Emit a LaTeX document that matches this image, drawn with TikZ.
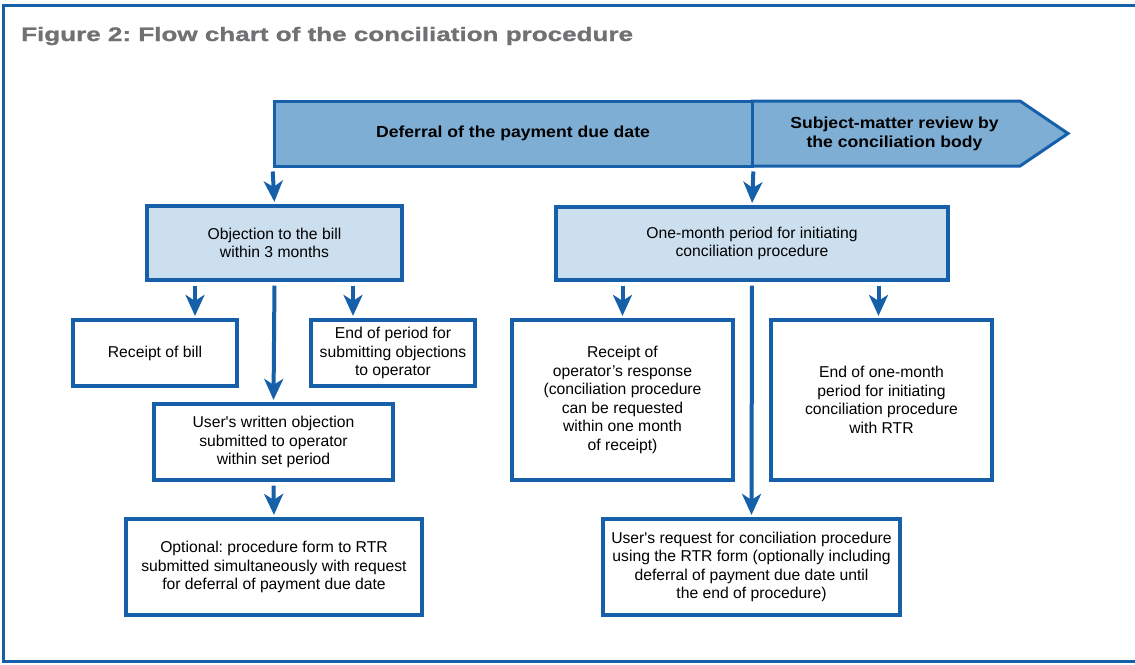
\documentclass[tikz,border=0pt]{standalone}
\usepackage{fontspec}
\setmainfont{Liberation Sans}
\newfontfamily\titlefont{Liberation Sans}[FakeStretch=1.335, BoldFeatures={FakeBold=1.2}]
\newfontfamily\bannerfont{Liberation Sans}[FakeStretch=1.1]
\frenchspacing
\usetikzlibrary{arrows.meta, positioning, calc}
\definecolor{rtrblue}{HTML}{1660AA}
\definecolor{bannerblue}{HTML}{7FAED5}
\definecolor{paleblue}{HTML}{CCDFEF}
\definecolor{titlegray}{HTML}{707173}
\tikzset{
  banner/.style={draw=rtrblue, fill=bannerblue, line width=3pt, line join=miter},
  bannertext/.style={font=\bannerfont\bfseries\fontsize{16}{19}\selectfont,
                     align=center, inner sep=0pt},
  periodbox/.style={rectangle, draw=rtrblue, fill=paleblue, line width=3.2pt,
                    align=center, inner sep=0pt, font=\fontsize{15.7}{18.5}\selectfont},
  eventbox/.style={rectangle, draw=rtrblue, fill=white, line width=3.2pt,
                   align=center, inner sep=0pt, font=\fontsize{15.7}{18.5}\selectfont},
  arrow/.style={-{Stealth[length=21pt, width=19pt, inset=6pt]}, line width=4pt,
                draw=rtrblue, fill=rtrblue, shorten <=4pt, shorten >=2.5pt},
}

\begin{document}
\begin{tikzpicture}[x=1pt, y=-1pt]
  \useasboundingbox (0,0) rectangle (1135,664);
  \draw[rtrblue, line width=3pt] (1135,5) -- (3.5,5) -- (3.5,661) -- (1135,661);
  \node[anchor=base west, inner sep=0pt, text=titlegray,
        font=\titlefont\bfseries\fontsize{19.5}{23}\selectfont] (title) at (21,41)
        {Figure 2: Flow chart of the conciliation procedure};

  % time bar
  \draw[banner] (752,101) -- (1020,101) -- (1068,133.5) -- (1020,166) -- (752,166) -- cycle;
  \node[banner, bannertext, minimum width=478pt, minimum height=65pt] (defer) at (513,133.5)
        {Deferral of the payment due date};
  \node[bannertext] (review) at (894.5,133.5) {Subject-matter review by\\the conciliation body};

  % left branch
  \node[periodbox, minimum width=255pt, minimum height=74pt] (objection) at (274.5,243)
        {Objection to the bill\\within 3 months};
  \node[eventbox, minimum width=164pt, minimum height=66pt] (receipt) at (155,353)
        {Receipt of bill};
  \node[eventbox, minimum width=164pt, minimum height=66pt] (endperiod) at (393,353)
        {End of period for\\submitting objections\\to operator};
  \node[eventbox, minimum width=239pt, minimum height=76pt] (written) at (273.5,442)
        {User\textquotesingle s written objection\\submitted to operator\\within set period};
  \node[eventbox, minimum width=296pt, minimum height=96pt] (optional) at (274,567)
        {Optional: procedure form to RTR\\submitted simultaneously with request\\for deferral of payment due date};

  % right branch
  \node[periodbox, minimum width=392pt, minimum height=73pt] (month) at (752,243.5)
        {One-month period for initiating\\conciliation procedure};
  \node[eventbox, minimum width=221pt, minimum height=160pt] (response) at (622.5,400)
        {Receipt of\\operator’s response\\(conciliation procedure\\can be requested\\within one month\\of receipt)};
  \node[eventbox, minimum width=221pt, minimum height=160pt] (endmonth) at (881.5,400)
        {End of one-month\\period for initiating\\conciliation procedure\\with RTR};
  \node[eventbox, minimum width=297pt, minimum height=96pt] (request) at (751.5,567)
        {User\textquotesingle s request for conciliation procedure\\using the RTR form (optionally including\\deferral of payment due date until\\the end of procedure)};

  \draw[arrow] (defer.south west) -- (objection.north);
  \draw[arrow] (defer.south east) -- (month.north);

  \draw[arrow] ([xshift=40pt]receipt.north |- objection.south) -- ([xshift=40pt]receipt.north);
  \draw[arrow] ([xshift=-40pt]endperiod.north |- objection.south) -- ([xshift=-40pt]endperiod.north);
  \draw[arrow] (objection.south) -- (written.north);
  \draw[arrow] (written.south) -- (optional.north);

  \draw[arrow] (response.north |- month.south) -- (response.north);
  \draw[arrow] ([xshift=-3pt]endmonth.north |- month.south) -- ([xshift=-3pt]endmonth.north);
  \draw[arrow] (month.south) -- (request.north);
\end{tikzpicture}
\end{document}
